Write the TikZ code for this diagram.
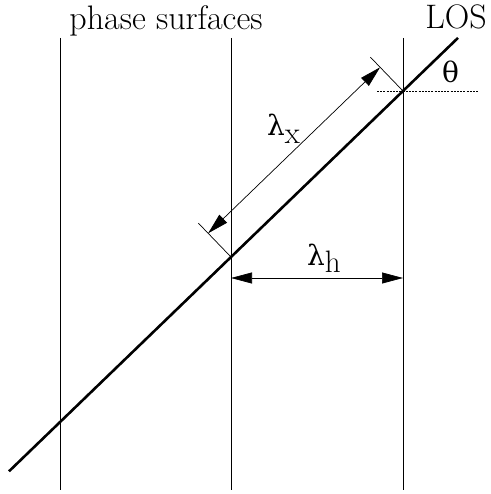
\documentclass[tikz,border=0pt]{standalone}
\usepackage{fontspec}
\newfontfamily\greekfont{DejaVu Serif}
\usetikzlibrary{arrows.meta}
\begin{document}
\begin{tikzpicture}[x=1pt,y=-1pt,
  thinline/.style={line width=0.9pt},
  losline/.style={line width=2.6pt},
  extline/.style={line width=0.7pt},
  dimline/.style={line width=0.7pt, {Triangle[length=21pt,width=11pt]}-{Triangle[length=21pt,width=11pt]}},
  refline/.style={line width=0.6pt, dash pattern=on 2pt off 1.2pt},
  lbl/.style={inner sep=0pt, anchor=base, font=\rmfamily\fontsize{34}{40}\selectfont}]
\useasboundingbox (0,0) rectangle (490,494);
% phase surfaces
\coordinate (v1t) at (60,38);  \coordinate (v1b) at (60,490);
\coordinate (v2t) at (231,38); \coordinate (v2b) at (231,490);
\coordinate (v3t) at (403,38); \coordinate (v3b) at (403,490);
\draw[thinline] (v1t) -- (v1b);
\draw[thinline] (v2t) -- (v2b);
\draw[thinline] (v3t) -- (v3b);
% LOS
\coordinate (A) at (231,257);
\coordinate (B) at (403,91);
\coordinate (L0) at (9,471.3);
\coordinate (L1) at (458,37.9);
\draw[losline] (L0) -- (L1);
% extension lines
\coordinate (Ae) at (198.4,223.2);
\coordinate (Be) at (370.4,57.2);
\draw[extline] (A) -- (Ae);
\draw[extline] (B) -- (Be);
% lambda_x dimension
\coordinate (Ad) at (208.1,233.3);
\coordinate (Bd) at (380.1,67.3);
\draw[dimline] (Ad) -- (Bd);
% lambda_h dimension
\coordinate (Ah) at (231,278);
\coordinate (Bh) at (403,278);
\draw[dimline] (Ah) -- (Bh);
% horizontal reference
\coordinate (R0) at (377,91);
\coordinate (R1) at (478,91);
\draw[refline] (R0) -- (R1);
% labels
\node[lbl] (ps) at (166,30) {phase surfaces};
\node[lbl] (los) at (456,29) {LOS};
\node[lbl] (th) at (450.5,83) {{\greekfont\fontsize{28}{30}\selectfont θ}};
\node[lbl] (lx) at (283.5,136) {{\greekfont\fontsize{28}{30}\selectfont λ}\raisebox{-8pt}{\fontsize{31}{32}\selectfont x}};
\node[lbl] (lh) at (324,265) {{\greekfont\fontsize{28}{30}\selectfont λ}\raisebox{-7pt}{\fontsize{31}{32}\selectfont h}};
\end{tikzpicture}
\end{document}
